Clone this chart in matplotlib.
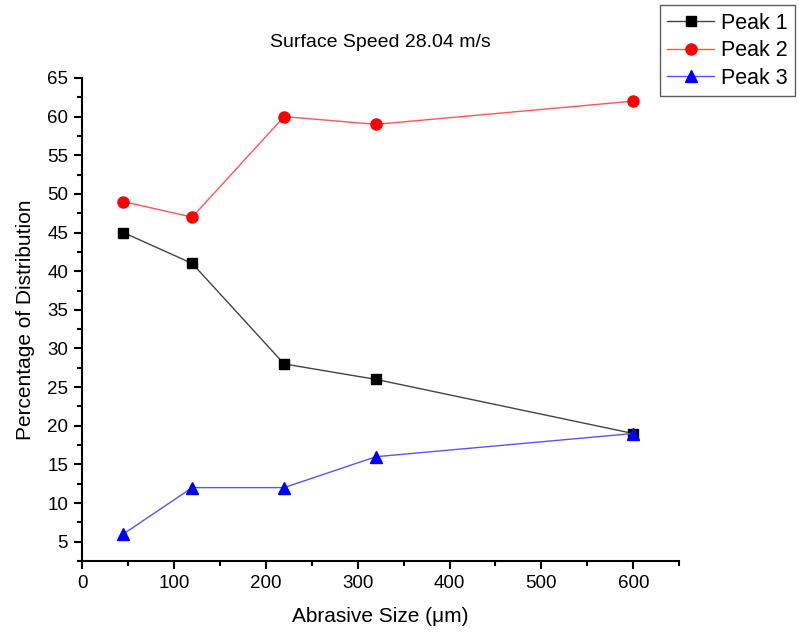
import matplotlib
matplotlib.use("Agg")
import matplotlib.pyplot as plt
from matplotlib.ticker import MultipleLocator

plt.rcParams['font.family'] = ['Liberation Sans', 'DejaVu Sans']

abrasive_size = [45, 120, 220, 320, 600]
peak1 = [45, 41, 28, 26, 19]
peak2 = [49, 47, 60, 59, 62]
peak3 = [6, 12, 12, 16, 19]

fig = plt.figure(figsize=(8.0, 6.39), dpi=100)
ax = fig.add_axes([0.1025, 0.122, 0.7465, 0.756])

ax.plot(abrasive_size, peak1, color='#444444', lw=1.0, marker='s', ms=7,
        mfc='black', mec='black', label='Peak 1')
ax.plot(abrasive_size, peak2, color='#ff5555', lw=1.0, marker='o', ms=8,
        mfc='red', mec='red', label='Peak 2')
ax.plot(abrasive_size, peak3, color='#5555ff', lw=1.0, marker='^', ms=9,
        mfc='blue', mec='blue', label='Peak 3')

ax.set_xlim(0, 650)
ax.set_ylim(2.5, 65)
ax.xaxis.set_major_locator(MultipleLocator(100))
ax.xaxis.set_minor_locator(MultipleLocator(50))
ax.yaxis.set_major_locator(MultipleLocator(5))
ax.yaxis.set_minor_locator(MultipleLocator(2.5))
ax.set_yticks(range(5, 66, 5))

for side in ('top', 'right'):
    ax.spines[side].set_visible(False)
for side in ('left', 'bottom'):
    ax.spines[side].set_linewidth(1.5)

ax.tick_params(which='major', direction='out', length=6, width=1.5,
               labelsize=13.5, pad=4)
ax.tick_params(which='minor', direction='out', length=3.5, width=1.5)

ax.set_xlabel('Abrasive Size (\u03bcm)', fontsize=15, labelpad=11)
ax.set_ylabel('Percentage of Distribution', fontsize=15, labelpad=9)
ax.set_title('Surface Speed 28.04 m/s', fontsize=14, pad=22)

leg = fig.legend(loc='upper right', bbox_to_anchor=(0.994, 0.992),
                 fontsize=15.5, frameon=True, fancybox=False,
                 borderpad=0.35, handlelength=2.2, labelspacing=0.3,
                 handletextpad=0.3, borderaxespad=0.0)
leg.get_frame().set_edgecolor('#333333')
leg.get_frame().set_linewidth(1.0)

fig.savefig('out.png', dpi=100)
